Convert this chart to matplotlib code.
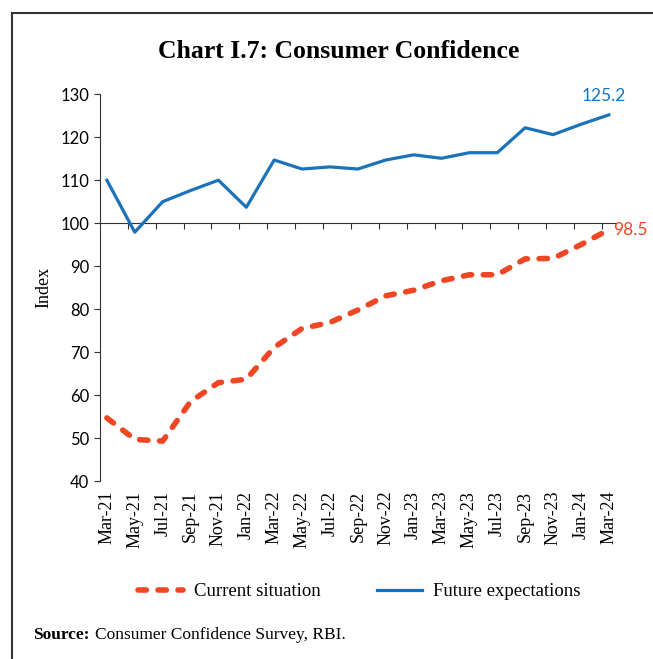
import matplotlib
matplotlib.use("Agg")
import matplotlib.pyplot as plt
from matplotlib.lines import Line2D

# bi-monthly survey rounds
months = ["Mar-21", "May-21", "Jul-21", "Sep-21", "Nov-21", "Jan-22", "Mar-22",
          "May-22", "Jul-22", "Sep-22", "Nov-22", "Jan-23", "Mar-23", "May-23",
          "Jul-23", "Sep-23", "Nov-23", "Jan-24", "Mar-24"]
current_situation = [54.7, 49.7, 49.3, 58.5, 62.9, 63.7, 71.1, 75.5, 76.9, 79.8,
                     83.1, 84.4, 86.6, 88.0, 88.0, 91.7, 91.8, 95.0, 98.5]
future_expectations = [110.0, 97.9, 105.0, 107.6, 110.0, 103.7, 114.7, 112.6, 113.1,
                       112.6, 114.7, 115.9, 115.1, 116.4, 116.4, 122.2, 120.6, 123.0, 125.2]
y_ticks = [40, 50, 60, 70, 80, 90, 100, 110, 120, 130]

red = "#ef4623"
blue = "#1a72b9"
axis_col = "#333333"
serif = "Liberation Serif"

x = list(range(len(months)))

fig = plt.figure(figsize=(6.53, 6.59), dpi=100)
ax = fig.add_axes([0.153, 0.270, 0.790, 0.587])

ax.plot(x, current_situation, color=red, lw=4, linestyle=(0, (1.5, 2.1)),
        dash_capstyle="round", label="Current situation", zorder=3)
ax.plot(x, future_expectations, color=blue, lw=2.3, label="Future expectations", zorder=3)

ax.set_xlim(-0.25, 18.25)
ax.set_ylim(40, 130)

# horizontal axis sits on the 100 line, labels go to the bottom
for s in ["top", "right"]:
    ax.spines[s].set_visible(False)
ax.spines["bottom"].set_position(("data", 100))
ax.spines["bottom"].set_color(axis_col)
ax.spines["left"].set_color(axis_col)
ax.set_xticks([i + 0.75 for i in x[:-1]])
ax.tick_params(axis="x", direction="out", length=4, color=axis_col, labelbottom=False)
ax.set_yticks(y_ticks)
ax.tick_params(axis="y", direction="out", length=4, color=axis_col, labelsize=12)
for lab in ax.get_yticklabels():
    lab.set_fontfamily("Lato")

sec = ax.secondary_xaxis("bottom")
sec.set_xticks(x, months, rotation=90, fontsize=13, fontfamily=serif)
sec.spines["bottom"].set_visible(False)
sec.tick_params(length=0, pad=7)

ax.set_ylabel("Index", fontsize=13, fontfamily=serif, labelpad=6)

ax.annotate("125.2", (x[-1], future_expectations[-1]), xytext=(-4, 8),
            textcoords="offset points", color=blue, fontsize=12.5, fontfamily="Lato",
            ha="center", va="bottom")
ax.annotate("98.5", (x[-1], current_situation[-1]), xytext=(3, 0),
            textcoords="offset points", color=red, fontsize=12.5, fontfamily="Lato",
            ha="left", va="center", annotation_clip=False)

fig.text(0.518, 0.922, "Chart I.7: Consumer Confidence", ha="center", va="center",
         fontsize=18.5, fontweight="bold", fontfamily=serif)

fig.legend(loc="center", bbox_to_anchor=(0.55, 0.102), ncol=2, frameon=False,
           prop={"family": serif, "size": 13.5}, handlelength=2.4,
           handletextpad=0.6, columnspacing=3.0)

fig.text(0.05, 0.037, "Source:", fontsize=12.5, fontweight="bold", fontfamily=serif,
         va="center")
fig.text(0.146, 0.037, "Consumer Confidence Survey, RBI.", fontsize=12.5,
         fontfamily=serif, va="center")

# page frame (left and top edges)
fig.add_artist(Line2D([0.018, 0.018], [0.0, 0.980], color=axis_col, lw=1.5))
fig.add_artist(Line2D([0.018, 1.0], [0.980, 0.980], color=axis_col, lw=1.5))

fig.savefig("out.png", dpi=100)
